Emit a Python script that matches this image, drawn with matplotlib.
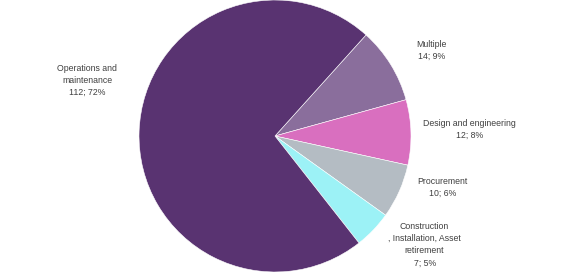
import matplotlib
matplotlib.use('Agg')
import matplotlib.pyplot as plt

# data, in clockwise order starting from the upper right
categories = ['Multiple', 'Design and engineering', 'Procurement',
              'Construction\n, Installation, Asset\nretirement',
              'Operations and\nmaintenance']
counts = [14, 12, 10, 7, 112]
percent_labels = ['9%', '8%', '6%', '5%', '72%']

colors = ['#8A6E9C', '#D96FBF', '#B4BCC3', '#9CF2F6', '#593371']

# label placement (data coords, pie radius = 1)
label_pos = [(1.15, 0.63), (1.43, 0.05), (1.23, -0.38), (1.10, -0.80), (-1.38, 0.41)]

plt.rcParams['font.family'] = ['Liberation Sans', 'DejaVu Sans']

fig = plt.figure(figsize=(5.61, 2.72), dpi=100)
ax = fig.add_axes([(275 - 136) / 561, 0, 272 / 561, 1])

wedges, _ = ax.pie(counts, colors=colors, startangle=48, counterclock=False,
                   wedgeprops=dict(edgecolor='white', linewidth=0.4))
ax.set_xlim(-1, 1)
ax.set_ylim(-1, 1)
ax.set_aspect('equal')
ax.axis('off')

for cat, n, pct, (x, y) in zip(categories, counts, percent_labels, label_pos):
    ax.text(x, y, f'{cat}\n{n}; {pct}', ha='center', va='center',
            fontsize=6.3, color='#404040', linespacing=1.45)

fig.savefig('out.png', dpi=100)
